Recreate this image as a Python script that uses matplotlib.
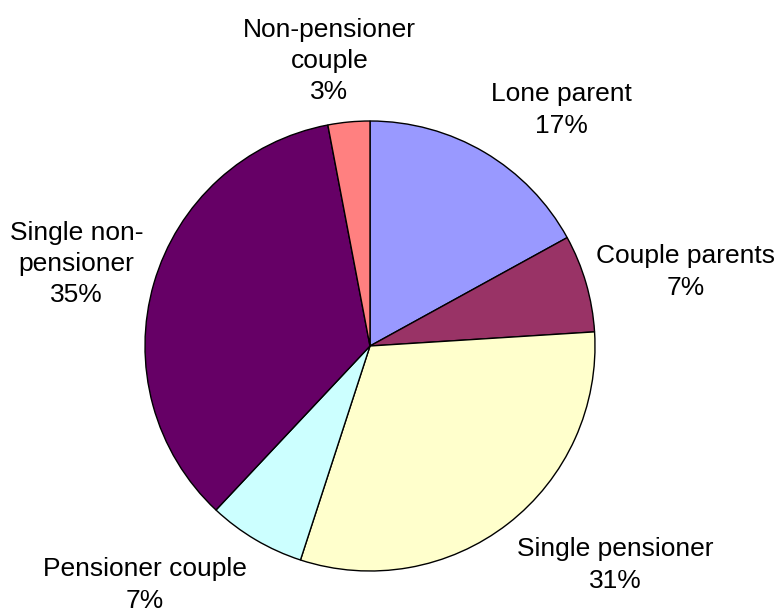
import numpy as np
import matplotlib.pyplot as plt

plt.rcParams['font.family'] = ['Liberation Sans', 'DejaVu Sans']

# household types, clockwise from 12 o'clock
labels = ["Lone parent", "Couple parents", "Single pensioner",
          "Pensioner couple", "Single non-\npensioner", "Non-pensioner\ncouple"]
shares = [17, 7, 31, 7, 35, 3]
colors = ["#9999FF", "#993366", "#FFFFCC", "#CCFFFF", "#660066", "#FF8080"]

# label placement (radius multiple, angle nudge in degrees)
lab_dist = [1.35, 1.44, 1.46, 1.46, 1.355, 1.28]
lab_nudge = [-8.4, -3.0, 10.4, -12.7, 0.6, 2.7]

fig = plt.figure(figsize=(7.79, 6.13), dpi=100)
ax = fig.add_axes([0, 0, 1, 1])

wedges, _ = ax.pie(shares, colors=colors, startangle=90, counterclock=False,
                   radius=1.0, wedgeprops=dict(edgecolor="black", linewidth=1.0))

for w, lab, s, d, nd in zip(wedges, labels, shares, lab_dist, lab_nudge):
    ang = np.deg2rad((w.theta1 + w.theta2) / 2 + nd)
    ax.text(d * np.cos(ang), d * np.sin(ang), "%s\n%d%%" % (lab, s),
            ha="center", va="center", fontsize=19, linespacing=1.38)

# centre at (370, 346) px, radius 225 px
ax.set_xlim(-370 / 225, (779 - 370) / 225)
ax.set_ylim(-(613 - 346) / 225, 346 / 225)
ax.set_aspect("auto")
ax.axis("off")

fig.savefig("out.png", dpi=100)
